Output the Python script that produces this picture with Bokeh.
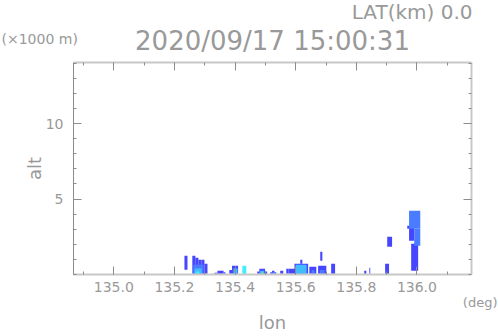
from bokeh.plotting import figure
from bokeh.models import (ColumnDataSource, Range1d, LinearAxis, FixedTicker,
                          PrintfTickFormatter, Title)
from bokeh.embed import file_html
from bokeh.resources import INLINE

# ---- data: radar echo cells (lon range, alt range in km, intensity level)
lon_left = [135.233, 135.259, 135.269, 135.279, 135.289, 135.299, 135.262, 135.266, 135.270,
            135.332, 135.342, 135.362,
            135.381, 135.390, 135.395,
            135.424,
            135.473, 135.480, 135.499, 135.483, 135.486,
            135.516, 135.522, 135.530, 135.523,
            135.549, 135.569, 135.576,
            135.596, 135.600, 135.615,
            135.645, 135.652,
            135.674, 135.680, 135.681,
            135.717, 135.826, 135.843, 135.895, 135.902,
            135.981, 135.974, 135.991, 135.974, 135.968]
lon_right = [135.243, 135.269, 135.279, 135.289, 135.299, 135.309, 135.296, 135.290, 135.282,
             135.342, 135.362, 135.368,
             135.390, 135.410, 135.408,
             135.437,
             135.480, 135.499, 135.506, 135.496, 135.493,
             135.522, 135.530, 135.536, 135.529,
             135.559, 135.576, 135.599,
             135.641, 135.636, 135.622,
             135.668, 135.662,
             135.701, 135.695, 135.688,
             135.730, 135.833, 135.846, 135.908, 135.918,
             136.004, 135.991, 136.011, 136.011, 135.974]
alt_bottom = [0.31, 0.05, 0.05, 0.05, 0.05, 0.05, 0.05, 0.05, 0.05,
              0.05, 0.05, 0.05,
              0.05, 0.05, 0.05,
              0.05,
              0.05, 0.05, 0.05, 0.05, 0.05,
              0.05, 0.05, 0.05, 0.05,
              0.05, 0.05, 0.05,
              0.05, 0.05, 0.71,
              0.05, 0.05,
              0.05, 0.05, 0.91,
              0.05, 0.05, 0.05, 0.05, 1.84,
              0.25, 2.24, 1.90, 3.03, 3.03]
alt_top = [1.24, 1.24, 1.11, 0.98, 0.98, 0.71, 0.65, 0.40, 0.20,
           0.12, 0.25, 0.15,
           0.30, 0.58, 0.40,
           0.58,
           0.20, 0.38, 0.20, 0.25, 0.15,
           0.15, 0.25, 0.15, 0.12,
           0.25, 0.38, 0.38,
           0.71, 0.64, 0.98,
           0.51, 0.30,
           0.58, 0.30, 1.51,
           0.71, 0.25, 0.44, 0.71, 2.50,
           2.04, 3.23, 3.03, 4.23, 3.23]
level = [1, 1, 1, 1, 1, 1, 2, 3, 4,
         1, 1, 1,
         1, 1, 3,
         4,
         1, 1, 1, 3, 5,
         1, 1, 1, 3,
         1, 1, 1,
         1, 3, 1,
         1, 2,
         1, 2, 1,
         1, 1, 1, 1, 1,
         1, 1, 2, 2, 1]

palette = ["#ffffff", "#4646ff", "#4a7cff", "#40bcff", "#40eeff", "#48ff88", "#d8ff40"]

x_major = [135.0, 135.2, 135.4, 135.6, 135.8, 136.0]
x_minor = [134.9, 135.0, 135.1, 135.2, 135.3, 135.4, 135.5, 135.6, 135.7, 135.8, 135.9, 136.0, 136.1]
y_major = [5, 10]
y_minor = list(range(0, 15))

title_text = "2020/09/17 15:00:31"
lat_text = "LAT(km) 0.0"
yunit_text = "(\u00d71000 m)"
xunit_text = "(deg)"
xlabel_text = "lon"
ylabel_text = "alt"

src = ColumnDataSource(dict(left=lon_left, right=lon_right, bottom=alt_bottom,
                            top=alt_top, color=[palette[l] for l in level]))

p = figure(width=498, height=336, output_backend="svg", toolbar_location=None,
           x_range=Range1d(134.867, 136.18), y_range=Range1d(0, 14.05),
           min_border_left=73, min_border_right=27, min_border_top=62, min_border_bottom=62)
p.background_fill_color = "white"
p.border_fill_color = "white"
p.outline_line_color = None
p.grid.visible = False

p.quad(left="left", right="right", bottom="bottom", top="top", source=src,
       fill_color="color", line_color=None)

GRAY = "#8c8c8c"
LIGHT = "#c8c8c8"
TXT = "#999999"
FONT = "DejaVu Sans"

def style(ax, line_color, line_width, labels=True):
    ax.axis_line_color = line_color
    ax.axis_line_width = line_width
    ax.major_tick_line_color = GRAY
    ax.minor_tick_line_color = GRAY
    ax.major_tick_in = 8
    ax.major_tick_out = 0
    ax.minor_tick_in = 3
    ax.minor_tick_out = 0
    ax.major_label_text_color = TXT
    ax.major_label_text_font = FONT
    ax.major_label_text_font_size = "14px"
    if not labels:
        ax.major_label_overrides = {t: "" for t in ax.ticker.ticks}
        ax.major_label_standoff = 0

xt = FixedTicker(ticks=x_major, minor_ticks=x_minor)
yt = FixedTicker(ticks=y_major, minor_ticks=y_minor)

xb = p.xaxis[0]
xb.ticker = xt
xb.formatter = PrintfTickFormatter(format="%.1f")
style(xb, LIGHT, 2)
xb.major_label_standoff = 7

yl = p.yaxis[0]
yl.ticker = yt
style(yl, GRAY, 1)
yl.major_label_standoff = 10
yl.axis_label = ylabel_text
yl.axis_label_text_font = FONT
yl.axis_label_text_font_size = "18px"
yl.axis_label_text_font_style = "normal"
yl.axis_label_text_color = TXT
yl.axis_label_standoff = -2

xa = LinearAxis(ticker=FixedTicker(ticks=x_major, minor_ticks=x_minor))
style(xa, LIGHT, 2, labels=False)
p.add_layout(xa, "above")
yr = LinearAxis(ticker=FixedTicker(ticks=y_major, minor_ticks=y_minor))
style(yr, LIGHT, 2, labels=False)
p.add_layout(yr, "right")

def add_title(text, place, size, align, offset=0, standoff=0):
    p.add_layout(Title(text=text, align=align, offset=offset, standoff=standoff,
                       text_font=FONT, text_font_size=size, text_font_style="normal",
                       text_color=TXT), place)

# above, stacked outward from the frame
add_title(title_text, "above", "26px", "center", offset=0, standoff=14)
add_title(yunit_text, "above", "14px", "left", offset=-72, standoff=-60)
add_title(lat_text, "above", "20px", "right", offset=-1, standoff=-15)
# below, stacked outward from the bottom axis
add_title(xunit_text, "below", "13px", "right", offset=-26, standoff=-3)
add_title(xlabel_text, "below", "18px", "center", offset=0, standoff=3)

open("out.html", "w").write(file_html(p, INLINE))
